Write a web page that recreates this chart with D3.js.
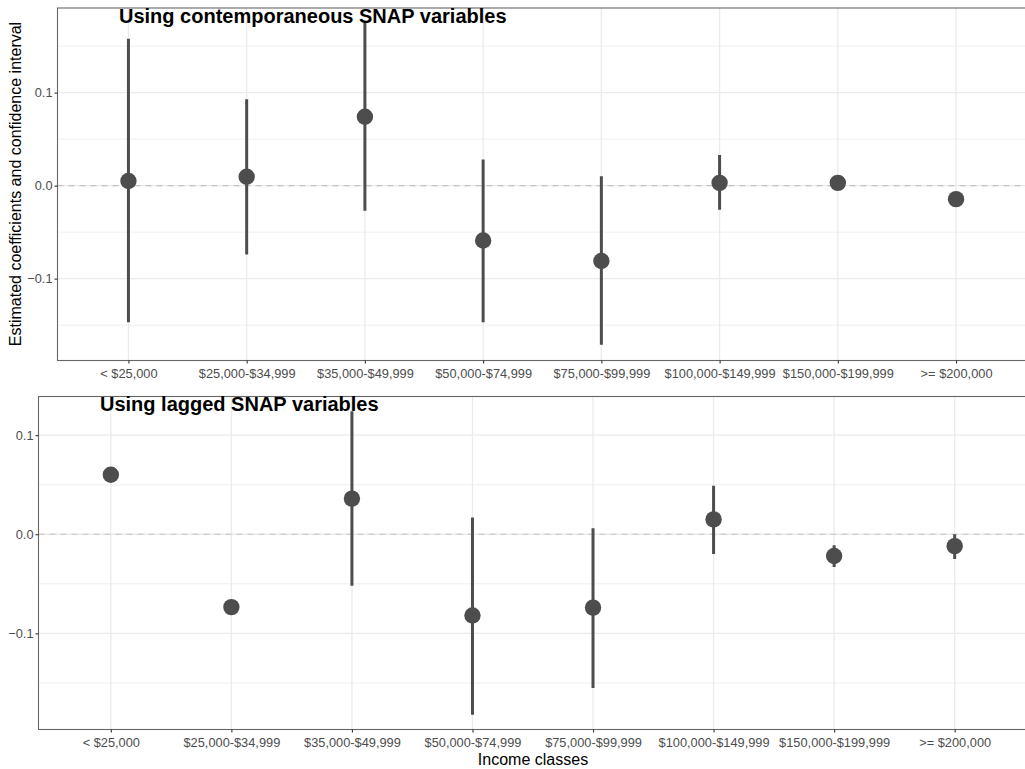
<!DOCTYPE html>
<html>
<head>
<meta charset="utf-8">
<script src="https://cdn.jsdelivr.net/npm/d3@7"></script>
<style>
  html, body { margin: 0; padding: 0; background: #fff; }
  svg { display: block; font-family: "Liberation Sans", Arial, Helvetica, sans-serif; }
</style>
</head>
<body>
<svg id="chart" width="1025" height="769"></svg>
<script>
// Income classes shared by both panels
const incomeClasses = ["< $25,000", "$25,000-$34,999", "$35,000-$49,999", "$50,000-$74,999",
  "$75,000-$99,999", "$100,000-$149,999", "$150,000-$199,999", ">= $200,000"];

// Contemporaneous SNAP variables: estimate and confidence bounds
const contEstimate = [0.005, 0.0095, 0.074, -0.059, -0.081, 0.003, 0.003, -0.0145];
const contLower    = [-0.147, -0.074, -0.027, -0.147, -0.171, -0.026, 0.000, -0.017];
const contUpper    = [0.158, 0.093, 0.175, 0.028, 0.010, 0.033, 0.006, -0.012];

// Lagged SNAP variables: estimate and confidence bounds
const lagEstimate = [0.060, -0.0735, 0.036, -0.082, -0.074, 0.015, -0.022, -0.012];
const lagLower    = [0.057, -0.076, -0.052, -0.182, -0.155, -0.020, -0.033, -0.025];
const lagUpper    = [0.063, -0.071, 0.124, 0.017, 0.006, 0.049, -0.011, 0.000];

const yTicks = [-0.1, 0.0, 0.1];
const yMinor = [-0.15, -0.05, 0.05, 0.15];

const svg = d3.select("#chart");
const ink = "#4d4d4d";

function drawPanel(cfg) {
  const { left, right, top, bottom, yDomain, title, titleX, titleY, est, lo, hi, id } = cfg;
  const x = d3.scalePoint().domain(incomeClasses).range([left, right]).padding(0.6);
  const y = d3.scaleLinear().domain(yDomain).range([bottom, top]);

  const g = svg.append("g");

  g.append("clipPath").attr("id", id).append("rect")
    .attr("x", left).attr("y", top).attr("width", right - left).attr("height", bottom - top);

  // panel background
  g.append("rect").attr("x", left).attr("y", top)
    .attr("width", right - left).attr("height", bottom - top).attr("fill", "#fff");

  const grid = g.append("g").attr("clip-path", `url(#${id})`);
  grid.selectAll("line.minor").data(yMinor).join("line")
    .attr("x1", left).attr("x2", right)
    .attr("y1", d => y(d)).attr("y2", d => y(d))
    .attr("stroke", "#ebebeb").attr("stroke-width", 0.8);
  grid.selectAll("line.majy").data(yTicks).join("line")
    .attr("x1", left).attr("x2", right)
    .attr("y1", d => y(d)).attr("y2", d => y(d))
    .attr("stroke", "#ebebeb").attr("stroke-width", 1.3);
  grid.selectAll("line.majx").data(incomeClasses).join("line")
    .attr("x1", d => x(d)).attr("x2", d => x(d))
    .attr("y1", top).attr("y2", bottom)
    .attr("stroke", "#ebebeb").attr("stroke-width", 1.3);

  // reference line at zero
  grid.append("line")
    .attr("x1", left).attr("x2", right).attr("y1", y(0)).attr("y2", y(0))
    .attr("stroke", "#c4c4c4").attr("stroke-width", 1.1)
    .attr("stroke-dasharray", "6,5");

  const rows = incomeClasses.map((c, i) => ({ c, e: est[i], l: lo[i], h: hi[i] }));

  // confidence intervals
  grid.selectAll("line.ci").data(rows).join("line")
    .attr("x1", d => x(d.c)).attr("x2", d => x(d.c))
    .attr("y1", d => y(d.l)).attr("y2", d => y(d.h))
    .attr("stroke", ink).attr("stroke-width", 3);

  // point estimates
  grid.selectAll("circle").data(rows).join("circle")
    .attr("cx", d => x(d.c)).attr("cy", d => y(d.e)).attr("r", 8.2)
    .attr("fill", ink);

  // panel border
  g.append("rect").attr("x", left).attr("y", top)
    .attr("width", right - left).attr("height", bottom - top)
    .attr("fill", "none").attr("stroke", "#666").attr("stroke-width", 1.1);

  // y axis
  const yAxis = g.append("g").attr("transform", `translate(${left},0)`)
    .call(d3.axisLeft(y).tickValues(yTicks).tickFormat(d3.format(".1f")).tickSize(3).tickPadding(2));
  yAxis.select(".domain").remove();
  yAxis.selectAll(".tick line").attr("stroke", "#333").attr("stroke-width", 1.1);
  yAxis.selectAll(".tick text").attr("fill", ink).attr("font-size", 12.8)
    .attr("font-family", "'Liberation Sans', Arial, sans-serif");

  // x axis
  const xAxis = g.append("g").attr("transform", `translate(0,${bottom})`)
    .call(d3.axisBottom(x).tickSize(3).tickPadding(5));
  xAxis.select(".domain").remove();
  xAxis.selectAll(".tick line").attr("stroke", "#333").attr("stroke-width", 1.1);
  xAxis.selectAll(".tick text").attr("fill", ink).attr("font-size", 12.8)
    .attr("font-family", "'Liberation Sans', Arial, sans-serif");

  // panel title
  g.append("text").attr("x", titleX).attr("y", titleY)
    .attr("font-size", 20).attr("font-weight", "bold").attr("fill", "#000")
    .text(title);

  return { x, y };
}

drawPanel({
  id: "clipTop", left: 57.5, right: 1027, top: 8, bottom: 360.5,
  yDomain: [-0.188, 0.191], title: "Using contemporaneous SNAP variables",
  titleX: 119, titleY: 22.7, est: contEstimate, lo: contLower, hi: contUpper
});

drawPanel({
  id: "clipBottom", left: 38.5, right: 1027, top: 396.5, bottom: 729.5,
  yDomain: [-0.197, 0.139], title: "Using lagged SNAP variables",
  titleX: 100, titleY: 410.5, est: lagEstimate, lo: lagLower, hi: lagUpper
});

// axis titles
svg.append("text")
  .attr("transform", "translate(21,184) rotate(-90)")
  .attr("text-anchor", "middle").attr("font-size", 16).attr("fill", "#000")
  .text("Estimated coefficients and confidence interval");

svg.append("text")
  .attr("x", 533).attr("y", 765)
  .attr("text-anchor", "middle").attr("font-size", 16).attr("fill", "#000")
  .text("Income classes");
</script>
</body>
</html>
